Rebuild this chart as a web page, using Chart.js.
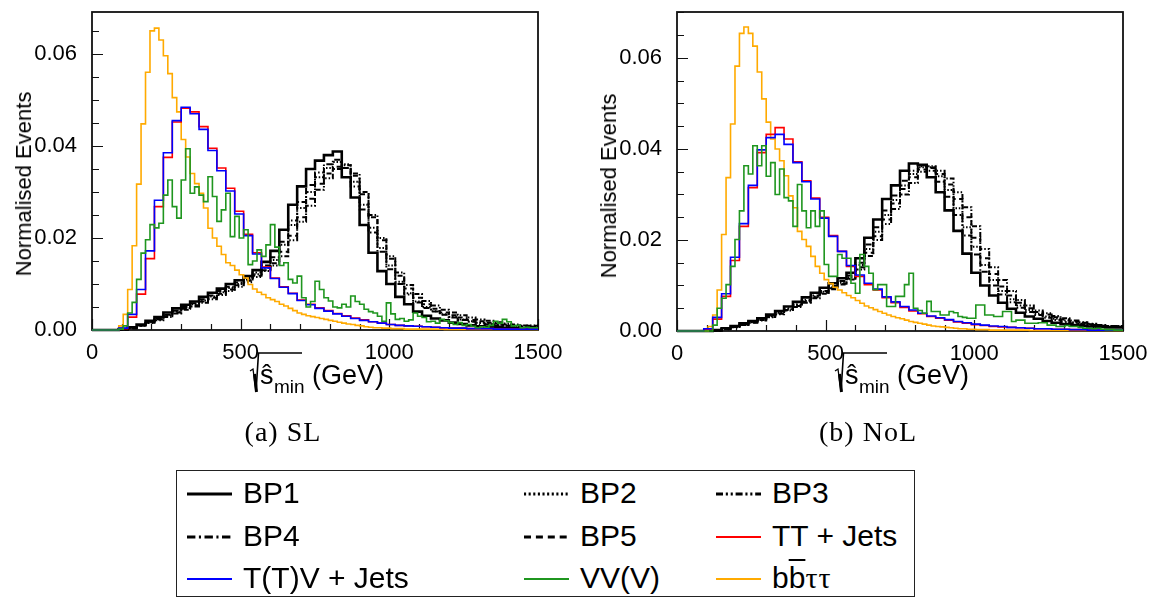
<!DOCTYPE html>
<html lang="en">
<head>
  <meta charset="UTF-8" />
  <title>sqrt(s_min) distributions</title>
  <script src="https://cdn.jsdelivr.net/npm/chart.js"></script>
  <style>
    body { margin: 0; background: #fff; }
    #page { position: relative; width: 1153px; height: 601px; overflow: hidden; font-family: "Liberation Sans", Arial, sans-serif; color: #000; }
    canvas { position: absolute; top: 0; }
    .ytitle { position: absolute; font-size: 22px; line-height: 22px; white-space: nowrap; transform: translate(-50%, -50%) rotate(-90deg); }
    .xpart { position: absolute; white-space: nowrap; }
    .caption { position: absolute; font-family: "Liberation Serif", "Times New Roman", serif; font-size: 28px; line-height: 28px; letter-spacing: 1px; transform: translateX(-50%); white-space: nowrap; }
    #legend { position: absolute; left: 176px; top: 470px; width: 737px; height: 125px; border: 1.5px solid #222; }
    .entry { position: absolute; }
    .entry svg { position: absolute; }
    .entry span { position: absolute; font-size: 30px; line-height: 30px; white-space: nowrap; }
    .entry span span { position: static; }
    .ovl { text-decoration: overline; text-decoration-thickness: 2px; }
    .tau { font-family: "Liberation Serif", serif; font-size: 31px; letter-spacing: 1px; }
  </style>
</head>
<body>
<div id="page">
  <canvas id="chartSL" width="580" height="400" style="left:0"></canvas>
  <canvas id="chartNoL" width="568" height="400" style="left:585px"></canvas>

  <div class="ytitle" style="left:24px; top:184px">Normalised Events</div>
  <div class="ytitle" style="left:609px; top:186px">Normalised Events</div>

  <div id="xtitleA"></div>
  <div id="xtitleB"></div>

  <div class="caption" style="left:283px; top:418px">(a) SL</div>
  <div class="caption" style="left:868px; top:418px">(b) NoL</div>

  <div id="legend"></div>
</div>

<script>
// bin widths in GeV
const wideBin = 30;
const fineBin = 15;

// ---- (a) SL ----
const slBP1 = [0,0,0,0,0.0002,0.0006,0.0012,0.0020,0.0028,0.0038,0.0047,0.0055,0.0062,0.0072,0.0081,0.0090,0.0100,0.0108,0.0117,0.0130,0.0148,0.0172,0.0218,0.0272,0.0312,0.0350,0.0368,0.0380,0.0388,0.0332,0.0288,0.0228,0.0168,0.0128,0.0100,0.0072,0.0056,0.0040,0.0031,0.0025,0.0021,0.0016,0.0013,0.0010,0.0008,0.0007,0.0006,0.0005,0.0004,0.0003];
const slBP2 = [0,0,0,0,0.0001,0.0005,0.0010,0.0017,0.0024,0.0032,0.0040,0.0048,0.0056,0.0064,0.0073,0.0082,0.0091,0.0100,0.0110,0.0121,0.0135,0.0152,0.0185,0.0228,0.0265,0.0300,0.0332,0.0352,0.0365,0.0360,0.0322,0.0272,0.0222,0.0178,0.0140,0.0105,0.0080,0.0062,0.0050,0.0041,0.0034,0.0028,0.0023,0.0019,0.0016,0.0013,0.0011,0.0009,0.0008,0.0007];
const slBP3 = [0,0,0,0,0.0001,0.0004,0.0009,0.0015,0.0021,0.0028,0.0036,0.0044,0.0051,0.0059,0.0067,0.0076,0.0085,0.0094,0.0104,0.0115,0.0128,0.0140,0.0160,0.0195,0.0235,0.0270,0.0305,0.0330,0.0350,0.0358,0.0340,0.0300,0.0250,0.0200,0.0160,0.0125,0.0098,0.0078,0.0063,0.0053,0.0044,0.0038,0.0032,0.0027,0.0023,0.0020,0.0017,0.0014,0.0012,0.0010];
const slBP4 = [0,0,0,0,0.0001,0.0005,0.0011,0.0018,0.0025,0.0033,0.0042,0.0050,0.0058,0.0067,0.0075,0.0085,0.0094,0.0103,0.0113,0.0125,0.0140,0.0158,0.0192,0.0238,0.0278,0.0315,0.0342,0.0360,0.0370,0.0352,0.0312,0.0262,0.0212,0.0170,0.0132,0.0100,0.0077,0.0060,0.0048,0.0040,0.0033,0.0027,0.0022,0.0018,0.0015,0.0012,0.0010,0.0009,0.0008,0.0007];
const slBP5 = [0,0,0,0,0.0001,0.0004,0.0009,0.0016,0.0023,0.0030,0.0038,0.0046,0.0054,0.0062,0.0070,0.0079,0.0088,0.0097,0.0107,0.0118,0.0130,0.0145,0.0170,0.0205,0.0245,0.0285,0.0318,0.0340,0.0355,0.0352,0.0335,0.0295,0.0245,0.0195,0.0155,0.0118,0.0090,0.0070,0.0056,0.0046,0.0038,0.0032,0.0027,0.0022,0.0019,0.0016,0.0014,0.0012,0.0010,0.0009];
const slTT = [0,0,0,0,0.0003,0.0028,0.0078,0.0155,0.0268,0.0375,0.0452,0.0482,0.0474,0.0442,0.0395,0.0352,0.0308,0.0258,0.0208,0.0168,0.0137,0.0113,0.0094,0.0080,0.0065,0.0056,0.0048,0.0042,0.0036,0.0031,0.0026,0.0022,0.0018,0.0015,0.0012,0.0010,0.0009,0.0008,0.0007,0.0006,0.0005,0.0004,0.0004,0.0003,0.0003,0.0003,0.0002,0.0002,0.0002,0.0002];
const slTTV = [0,0,0,0,0.0004,0.0034,0.0088,0.0172,0.0282,0.0385,0.0455,0.0484,0.0470,0.0436,0.0390,0.0346,0.0302,0.0252,0.0205,0.0165,0.0135,0.0112,0.0093,0.0079,0.0064,0.0055,0.0047,0.0041,0.0035,0.0030,0.0025,0.0021,0.0018,0.0015,0.0012,0.0010,0.0009,0.0008,0.0007,0.0006,0.0005,0.0004,0.0004,0.0003,0.0003,0.0003,0.0002,0.0002,0.0002,0.0002];
const slVV = [0,0,0,0,0,0,0,0.0002,0.0009,0.0037,0.0060,0.0110,0.0167,0.0196,0.0229,0.0222,0.0232,0.0293,0.0326,0.0268,
  0.0243,0.0326,0.0394,0.0297,0.0311,0.0293,0.0279,0.0333,0.0290,0.0236,0.0261,0.0297,0.0203,0.0247,0.0200,0.0218,0.0142,0.0150,0.0174,0.0160,
  0.0185,0.0229,0.0180,0.0140,0.0146,0.0110,0.0102,0.0117,0.0070,0.0050,0.0062,0.0106,0.0088,0.0070,0.0063,0.0050,0.0048,0.0056,0.0050,0.0074,
  0.0062,0.0056,0.0045,0.0040,0.0037,0.0030,0.0019,0.0059,0.0035,0.0023,0.0025,0.0019,0.0022,0.0037,0.0030,0.0027,0.0018,0.0019,0.0015,0.0023,
  0.0020,0.0016,0.0012,0.0016,0.0010,0.0012,0.0008,0.0005,0.0007,0.0006,0.0010,0.0019,0.0015,0.0023,0.0018,0.0009,0.0010,0.0005,0.0006,0.0005];
const slBBTT = [0,0,0,0,0,0,0,0.0009,0.0034,0.0088,0.0183,0.0317,0.0448,0.0560,0.0650,0.0656,0.0630,0.0596,0.0557,0.0505,
  0.0474,0.0414,0.0376,0.0340,0.0318,0.0297,0.0265,0.0221,0.0200,0.0182,0.0164,0.0146,0.0140,0.0130,0.0120,0.0113,0.0099,0.0089,0.0082,0.0077,
  0.0070,0.0066,0.0062,0.0056,0.0052,0.0047,0.0042,0.0037,0.0034,0.0031,0.0029,0.0027,0.0025,0.0023,0.0021,0.0019,0.0017,0.0015,0.0013,0.0012,
  0.0010,0.0009,0.0007,0.0006,0.0005,0.0005,0.0004,0.0004,0.0003,0.0003,0.0003,0.0002,0.0002,0.0002,0.0002,0.0002,0.0002,0.0002,0.0002,0.0002,
  0.0001,0.0001,0.0001,0.0001,0.0001,0.0001,0.0001,0.0001,0.0001,0.0001,0.0001,0.0001,0.0001,0.0001,0.0001,0.0001,0.0001,0.0001,0.0001,0.0001];

// ---- (b) NoL ----
const nolBP1 = [0,0,0,0,0,0.0002,0.0006,0.0011,0.0017,0.0022,0.0028,0.0036,0.0044,0.0054,0.0064,0.0074,0.0084,0.0095,0.0105,0.0116,0.0128,0.0160,0.0205,0.0245,0.0290,0.0320,0.0352,0.0368,0.0365,0.0338,0.0305,0.0265,0.0220,0.0170,0.0128,0.0100,0.0078,0.0062,0.0049,0.0040,0.0032,0.0027,0.0022,0.0018,0.0015,0.0013,0.0011,0.0010,0.0009,0.0008];
const nolBP2 = [0,0,0,0,0,0.0001,0.0005,0.0009,0.0014,0.0019,0.0025,0.0032,0.0040,0.0048,0.0057,0.0066,0.0076,0.0086,0.0096,0.0106,0.0118,0.0145,0.0180,0.0218,0.0255,0.0288,0.0320,0.0345,0.0360,0.0362,0.0340,0.0310,0.0270,0.0228,0.0185,0.0145,0.0112,0.0088,0.0070,0.0056,0.0046,0.0038,0.0032,0.0027,0.0023,0.0019,0.0016,0.0014,0.0012,0.0010];
const nolBP3 = [0,0,0,0,0,0.0001,0.0004,0.0008,0.0013,0.0018,0.0023,0.0030,0.0037,0.0045,0.0053,0.0062,0.0072,0.0082,0.0092,0.0102,0.0113,0.0135,0.0165,0.0200,0.0235,0.0268,0.0300,0.0325,0.0350,0.0360,0.0352,0.0335,0.0305,0.0272,0.0230,0.0180,0.0140,0.0112,0.0088,0.0068,0.0056,0.0045,0.0039,0.0033,0.0028,0.0023,0.0019,0.0016,0.0013,0.0011];
const nolBP4 = [0,0,0,0,0,0.0001,0.0005,0.0010,0.0015,0.0020,0.0026,0.0033,0.0041,0.0050,0.0059,0.0068,0.0078,0.0088,0.0099,0.0110,0.0122,0.0150,0.0190,0.0228,0.0265,0.0298,0.0330,0.0352,0.0362,0.0352,0.0328,0.0295,0.0255,0.0210,0.0168,0.0130,0.0100,0.0080,0.0063,0.0051,0.0042,0.0035,0.0029,0.0024,0.0020,0.0017,0.0015,0.0013,0.0011,0.0010];
const nolBP5 = [0,0,0,0,0,0.0001,0.0004,0.0009,0.0014,0.0019,0.0024,0.0031,0.0038,0.0046,0.0055,0.0064,0.0074,0.0084,0.0094,0.0104,0.0115,0.0140,0.0172,0.0208,0.0245,0.0280,0.0312,0.0338,0.0355,0.0358,0.0345,0.0322,0.0290,0.0250,0.0205,0.0160,0.0125,0.0098,0.0078,0.0062,0.0050,0.0042,0.0036,0.0030,0.0025,0.0021,0.0018,0.0015,0.0013,0.0011];
const nolTT = [0,0,0,0,0.0004,0.0026,0.0076,0.0155,0.0230,0.0315,0.0392,0.0432,0.0447,0.0422,0.0372,0.0330,0.0292,0.0250,0.0210,0.0175,0.0142,0.0120,0.0102,0.0090,0.0073,0.0062,0.0052,0.0044,0.0038,0.0032,0.0028,0.0024,0.0020,0.0017,0.0014,0.0012,0.0010,0.0009,0.0008,0.0007,0.0006,0.0005,0.0005,0.0004,0.0004,0.0003,0.0003,0.0002,0.0002,0.0002];
const nolTTV = [0,0,0,0,0.0005,0.0030,0.0082,0.0162,0.0236,0.0320,0.0398,0.0425,0.0432,0.0410,0.0370,0.0328,0.0290,0.0248,0.0208,0.0175,0.0144,0.0123,0.0105,0.0092,0.0075,0.0064,0.0054,0.0046,0.0039,0.0033,0.0029,0.0025,0.0021,0.0018,0.0015,0.0013,0.0011,0.0010,0.0008,0.0007,0.0006,0.0005,0.0005,0.0004,0.0004,0.0003,0.0003,0.0002,0.0002,0.0002];
const nolVV = [0,0,0,0,0,0,0,0,0,0.0013,0.0050,0.0072,0.0102,0.0142,0.0201,0.0264,0.0363,0.0345,0.0407,0.0363,
  0.0407,0.0340,0.0370,0.0300,0.0356,0.0293,0.0286,0.0230,0.0322,0.0264,0.0227,0.0264,0.0230,0.0264,0.0146,0.0120,0.0120,0.0168,0.0160,0.0160,
  0.0105,0.0083,0.0168,0.0142,0.0127,0.0091,0.0102,0.0102,0.0054,0.0054,0.0076,0.0076,0.0102,0.0127,0.0050,0.0045,0.0039,0.0065,0.0043,0.0043,
  0.0035,0.0035,0.0043,0.0040,0.0032,0.0030,0.0028,0.0028,0.0057,0.0057,0.0035,0.0035,0.0032,0.0032,0.0043,0.0043,0.0021,0.0024,0.0024,0.0017,
  0.0017,0.0017,0.0018,0.0018,0.0013,0.0013,0.0010,0.0010,0.0012,0.0010,0.0010,0.0008,0.0006,0.0006,0.0005,0.0006,0.0004,0.0003,0.0003,0.0002];
const nolBBTT = [0,0,0,0,0,0,0,0,0.0010,0.0035,0.0090,0.0212,0.0337,0.0455,0.0582,0.0654,0.0668,0.0654,0.0626,0.0569,
  0.0510,0.0459,0.0422,0.0400,0.0374,0.0341,0.0297,0.0271,0.0219,0.0201,0.0186,0.0164,0.0142,0.0127,0.0113,0.0104,0.0096,0.0090,0.0084,0.0078,
  0.0073,0.0067,0.0061,0.0055,0.0051,0.0047,0.0043,0.0039,0.0035,0.0032,0.0029,0.0027,0.0024,0.0021,0.0019,0.0017,0.0015,0.0013,0.0011,0.0010,
  0.0009,0.0008,0.0007,0.0006,0.0005,0.0005,0.0004,0.0004,0.0003,0.0003,0.0003,0.0002,0.0002,0.0002,0.0002,0.0002,0.0002,0.0002,0.0002,0.0002,
  0.0001,0.0001,0.0001,0.0001,0.0001,0.0001,0.0001,0.0001,0.0001,0.0001,0.0001,0.0001,0.0001,0.0001,0.0001,0.0001,0.0001,0.0001,0.0001,0.0001];

const xTickLabels = [0, 500, 1000, 1500];
const yTickLabels = [0.00, 0.02, 0.04, 0.06];

// series styling
const series = [
  { key: 'VV',   label: 'VV(V)',        color: '#1f961f', width: 1.6, dash: [],              fine: true },
  { key: 'TTV',  label: 'T(T)V + Jets', color: '#0000ff', width: 1.6, dash: [],              fine: false },
  { key: 'TT',   label: 'TT + Jets',    color: '#ff0000', width: 1.6, dash: [],              fine: false },
  { key: 'BBTT', label: 'bbττ',         color: '#ffaa00', width: 1.6, dash: [],              fine: true },
  { key: 'BP1',  label: 'BP1',          color: '#000000', width: 2.6, dash: [],              fine: false },
  { key: 'BP2',  label: 'BP2',          color: '#000000', width: 2,   dash: [1.5, 1.8],      fine: false },
  { key: 'BP3',  label: 'BP3',          color: '#000000', width: 2,   dash: [5, 2, 1.5, 2, 1.5, 2], fine: false },
  { key: 'BP4',  label: 'BP4',          color: '#000000', width: 2,   dash: [6, 2.5, 1.5, 2.5], fine: false },
  { key: 'BP5',  label: 'BP5',          color: '#000000', width: 2,   dash: [5, 3.5],        fine: false }
];

const slData  = { BP1: slBP1, BP2: slBP2, BP3: slBP3, BP4: slBP4, BP5: slBP5, TT: slTT, TTV: slTTV, VV: slVV, BBTT: slBBTT };
const nolData = { BP1: nolBP1, BP2: nolBP2, BP3: nolBP3, BP4: nolBP4, BP5: nolBP5, TT: nolTT, TTV: nolTTV, VV: nolVV, BBTT: nolBBTT };

function histPoints(values, width) {
  const pts = values.map((v, i) => ({ x: i * width, y: v }));
  pts.push({ x: values.length * width, y: values[values.length - 1] });
  return pts;
}

// inward ticks + frame, ROOT style
const frameTicks = {
  id: 'frameTicks',
  beforeDatasetsDraw(chart) {
    const { ctx, chartArea: a, scales: { x, y } } = chart;
    ctx.save();
    ctx.strokeStyle = '#111';
    ctx.lineWidth = 1.2;
    ctx.beginPath();
    x.ticks.forEach(t => {
      const px = Math.round(x.getPixelForValue(t.value)) + 0.5;
      const len = xTickLabels.includes(t.value) ? 11 : 6;
      ctx.moveTo(px, a.bottom);
      ctx.lineTo(px, a.bottom - len);
    });
    y.ticks.forEach(t => {
      const py = Math.round(y.getPixelForValue(t.value)) + 0.5;
      const major = yTickLabels.some(v => Math.abs(v - t.value) < 1e-6);
      ctx.moveTo(a.left, py);
      ctx.lineTo(a.left + (major ? 11 : 7), py);
    });
    ctx.stroke();
    ctx.lineWidth = 1.8;
    ctx.strokeRect(a.left, a.top, a.right - a.left, a.bottom - a.top);
    ctx.restore();
  }
};

function makeChart(id, data, yMax, padRight, xHeight) {
  const datasets = series.map(s => ({
    label: s.label,
    data: histPoints(data[s.key], s.fine ? fineBin : wideBin),
    borderColor: s.color,
    borderWidth: s.width,
    borderDash: s.dash,
    stepped: 'after',
    pointRadius: 0,
    fill: false,
    clip: 4
  }));
  return new Chart(document.getElementById(id), {
    type: 'line',
    data: { datasets },
    options: {
      responsive: false,
      animation: false,
      events: [],
      layout: { padding: { top: 12, right: padRight, left: 0, bottom: 0 } },
      plugins: { legend: { display: false }, tooltip: { enabled: false } },
      scales: {
        x: {
          type: 'linear', min: 0, max: 1500,
          grid: { display: false }, border: { display: false },
          ticks: {
            stepSize: 100, autoSkip: false, maxRotation: 0, padding: 2,
            color: '#000', font: { family: 'Liberation Sans', size: 22 },
            callback: v => xTickLabels.includes(v) ? String(v) : ''
          },
          afterFit: s => { s.height = xHeight; s.paddingLeft = 0; s.paddingRight = 0; }
        },
        y: {
          type: 'linear', min: 0, max: yMax,
          grid: { display: false }, border: { display: false },
          ticks: {
            stepSize: 0.005, autoSkip: false, includeBounds: false, padding: 7,
            color: '#000', font: { family: 'Liberation Sans', size: 22 },
            callback: v => yTickLabels.some(t => Math.abs(t - v) < 1e-6) ? v.toFixed(2) : ''
          },
          afterFit: s => { s.width = 92; s.paddingTop = 0; s.paddingBottom = 0; }
        }
      }
    },
    plugins: [frameTicks]
  });
}

makeChart('chartSL', slData, 0.0691, 42, 70);
makeChart('chartNoL', nolData, 0.0701, 30, 69);

// x-axis titles: sqrt(s_min) (GeV)
function xTitle(el, x0) {
  el.innerHTML =
    '<svg class="xpart" style="left:' + (x0 - 2) + 'px; top:350px" width="56" height="46">' +
      '<polyline points="2,21 5,19 8,42" fill="none" stroke="#000" stroke-width="1.3"/>' +
      '<polyline points="8,42 10.5,3 54,3" fill="none" stroke="#000" stroke-width="1.6"/>' +
      '<line x1="6.5" y1="24" x2="8.5" y2="42" stroke="#000" stroke-width="3"/>' +
    '</svg>' +
    '<span class="xpart" style="left:' + (x0 + 10) + 'px; top:362px; font-size:27px; line-height:27px">ŝ</span>' +
    '<span class="xpart" style="left:' + (x0 + 24) + 'px; top:377px; font-size:19px; line-height:19px">min</span>' +
    '<span class="xpart" style="left:' + (x0 + 62) + 'px; top:362px; font-size:27px; line-height:27px">(GeV)</span>';
}
xTitle(document.getElementById('xtitleA'), 250);
xTitle(document.getElementById('xtitleB'), 835);

// legend, three columns
const legendCols = [10, 347, 539];
const legendOrder = ['BP1', 'BP2', 'BP3', 'BP4', 'BP5', 'TT', 'TTV', 'VV', 'BBTT'];
const legend = document.getElementById('legend');
legendOrder.forEach((key, i) => {
  const s = series.find(d => d.key === key);
  const col = i % 3, row = Math.floor(i / 3);
  const left = legendCols[col], top = 23 + row * 42.5;
  const black = s.color === '#000000';
  const lw = key === 'BP1' ? 3.2 : (black ? 3 : 2.2);
  const dash = s.dash.length ? s.dash.map(d => d * 1.4).join(',') : 'none';
  const text = key === 'BBTT' ? 'b<span class="ovl">b</span><span class="tau">ττ</span>' : s.label;
  const div = document.createElement('div');
  div.className = 'entry';
  div.style.left = left + 'px';
  div.style.top = top + 'px';
  div.innerHTML =
    '<svg style="left:0; top:-5px" width="46" height="10"><line x1="0" y1="5" x2="45" y2="5" stroke="' +
    s.color + '" stroke-width="' + lw + '" stroke-dasharray="' + dash + '"/></svg>' +
    '<span style="left:56px; top:-16px">' + text + '</span>';
  legend.appendChild(div);
});
</script>
</body>
</html>
